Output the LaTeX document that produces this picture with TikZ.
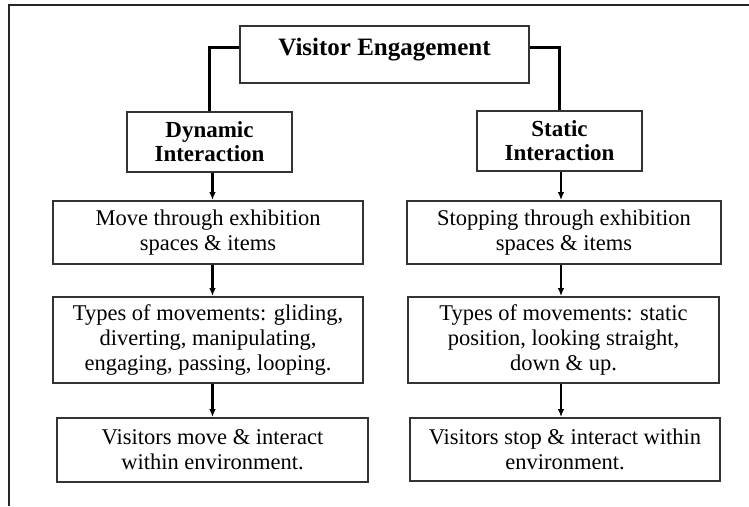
\documentclass[tikz,border=0pt]{standalone}
\usepackage{fontspec}
\setmainfont{Liberation Serif}
\usetikzlibrary{arrows.meta}

\tikzset{
  box/.style={draw=black!80, line width=1.7pt, fill=white, inner sep=0pt,
    align=center, font=\fontsize{22.5}{25}\selectfont},
  headbox/.style={box, font=\bfseries\fontsize{23}{24}\selectfont},
  titlebox/.style={box, font=\bfseries\fontsize{25}{28}\selectfont},
  link/.style={draw=black, line width=2.2pt},
  arr/.style={link, -{Latex[length=8pt,width=6.5pt]}},
  frameline/.style={draw=black!85, line width=1.8pt}
}

\begin{document}
\begin{tikzpicture}[x=1pt, y=1pt]
  \useasboundingbox (0,0) rectangle (749,-506);

  % outer frame (top and left edges only)
  \draw[frameline] (749,-5) -- (9,-5) -- (9,-506);

  % column lines for the vertical arrows
  \coordinate (colL) at (212.5,0);
  \coordinate (colR) at (561,0);

  % title
  \node[titlebox, minimum width=289pt, minimum height=57pt,
        text height=17pt, text depth=15pt] (top) at (384.5,-54.5) {Visitor Engagement};

  % branch headers
  \node[headbox, minimum width=165pt, minimum height=60pt] (dyn) at (209.5,-142) {Dynamic\\Interaction};
  \node[headbox, minimum width=165pt, minimum height=60pt] (sta) at (559.5,-141) {Static\\Interaction};

  % left column
  \node[box, minimum width=310pt, minimum height=63pt] (moveL) at (208,-232.5)
    {Move through exhibition\\spaces \& items};
  \node[box, minimum width=310pt, minimum height=86pt] (typeL) at (208,-340)
    {Types of movements: gliding,\\diverting, manipulating,\\engaging, passing, looping.};
  \node[box, minimum width=311pt, minimum height=64pt] (endL) at (212.5,-450)
    {Visitors move \& interact\\within environment.};

  % right column
  \node[box, minimum width=314pt, minimum height=63pt] (moveR) at (564,-232.5)
    {Stopping through exhibition\\spaces \& items};
  \node[box, minimum width=311pt, minimum height=86pt] (typeR) at (563.5,-340)
    {Types of movements: static\\position, looking straight,\\down \& up.};
  \node[box, minimum width=310pt, minimum height=63pt] (endR) at (565,-449.5)
    {Visitors stop \& interact within\\environment.};

  % elbow connectors from the title
  \draw[link] ([yshift=7pt]top.west) -| (dyn.north);
  \draw[link] ([yshift=7pt]top.east) -| (sta.north);

  % arrows down each column
  \draw[arr] (dyn.south -| colL) -- (moveL.north -| colL);
  \draw[arr] (moveL.south -| colL) -- (typeL.north -| colL);
  \draw[arr] (typeL.south -| colL) -- (endL.north -| colL);

  \draw[arr] (sta.south -| colR) -- (moveR.north -| colR);
  \draw[arr] (moveR.south -| colR) -- (typeR.north -| colR);
  \draw[arr] (typeR.south -| colR) -- (endR.north -| colR);
\end{tikzpicture}
\end{document}
